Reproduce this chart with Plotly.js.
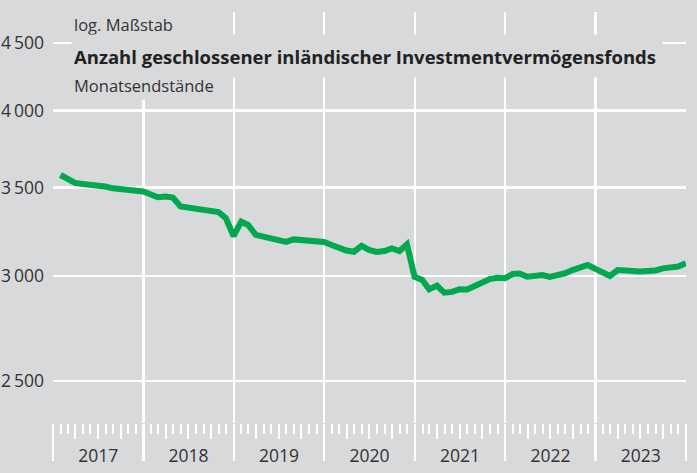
<!DOCTYPE html>
<html><head><meta charset="utf-8">
<script src="https://cdn.plot.ly/plotly-3.0.1.min.js"></script>
<style>html,body{margin:0;padding:0;background:#d8d9db;} #chart{width:697px;height:473px;}</style>
</head><body><div id="chart"></div>
<script>
// Month-end dates, Jan 2017 – Dec 2023
const months = [
 "2017-01-31","2017-02-28","2017-03-31","2017-04-30","2017-05-31","2017-06-30","2017-07-31","2017-08-31","2017-09-30","2017-10-31","2017-11-30","2017-12-31",
 "2018-01-31","2018-02-28","2018-03-31","2018-04-30","2018-05-31","2018-06-30","2018-07-31","2018-08-31","2018-09-30","2018-10-31","2018-11-30","2018-12-31",
 "2019-01-31","2019-02-28","2019-03-31","2019-04-30","2019-05-31","2019-06-30","2019-07-31","2019-08-31","2019-09-30","2019-10-31","2019-11-30","2019-12-31",
 "2020-01-31","2020-02-29","2020-03-31","2020-04-30","2020-05-31","2020-06-30","2020-07-31","2020-08-31","2020-09-30","2020-10-31","2020-11-30","2020-12-31",
 "2021-01-31","2021-02-28","2021-03-31","2021-04-30","2021-05-31","2021-06-30","2021-07-31","2021-08-31","2021-09-30","2021-10-31","2021-11-30","2021-12-31",
 "2022-01-31","2022-02-28","2022-03-31","2022-04-30","2022-05-31","2022-06-30","2022-07-31","2022-08-31","2022-09-30","2022-10-31","2022-11-30","2022-12-31",
 "2023-01-31","2023-02-28","2023-03-31","2023-04-30","2023-05-31","2023-06-30","2023-07-31","2023-08-31","2023-09-30","2023-10-31","2023-11-30","2023-12-31"
];
// Number of closed-end domestic investment funds (month-end)
const funds = [
 3577,3549,3528,3522,3518,3515,3506,3495,3491,3489,3489,3476,
 3458,3441,3445,3439,3386,3380,3369,3360,3357,3354,3319,3217,
 3298,3279,3223,3212,3203,3192,3184,3198,3195,3189,3189,3184,
 3167,3149,3137,3130,3162,3140,3129,3134,3148,3134,3171,2997,
 2980,2932,2951,2915,2919,2932,2931,2949,2971,2985,2992,2989,
 3011,3014,2997,3004,3006,2996,3004,3015,3032,3048,3059,3038,
 3017,3001,3032,3027,3023,3024,3027,3030,3041,3044,3051,3068
];
const yTickVals = [2500,3000,3500,4000,4500];
const yTickText = ["2\u2009500","3\u2009000","3\u2009500","4\u2009000","4\u2009500"];
const yearGrid = ["2018-01-01","2019-01-01","2020-01-01","2021-01-01","2022-01-01","2023-01-01"];
const yearEdges = ["2017-01-01","2024-01-01"];
const xRange = ["2017-01-01","2024-01-01"];

const BG = "#d8d9db";
const FONT = "Open Sans";
const TXT = "#333333";

const trace = {
  x: months, y: funds, type: "scatter", mode: "lines",
  line: {color: "#00a84f", width: 6}, hoverinfo: "skip"
};
// invisible copies so that the overlaying tick axes get drawn
const ghost = ax => ({x: months, y: funds, type: "scatter", mode: "lines", xaxis: ax, yaxis: "y",
  line: {color: "rgba(0,0,0,0)", width: 0}, hoverinfo: "skip", showlegend: false});

const baseX = {type: "date", range: xRange, fixedrange: true, zeroline: false, showline: false};

const layout = {
  width: 697, height: 473,
  margin: {l: 53, r: 11, t: 12, b: 50, pad: 0},
  paper_bgcolor: BG, plot_bgcolor: BG,
  showlegend: false,
  font: {family: FONT, color: TXT, size: 17},
  xaxis: Object.assign({}, baseX, {
    tickmode: "array", tickvals: yearGrid, showticklabels: false,
    ticks: "outside", ticklen: 37, tickwidth: 2.5, tickcolor: "#ffffff",
    showgrid: true, gridcolor: "#ffffff", gridwidth: 2.5
  }),
  xaxis2: Object.assign({}, baseX, {
    overlaying: "x", anchor: "y", side: "bottom",
    tickmode: "array", tickvals: yearEdges, showticklabels: false,
    ticks: "outside", ticklen: 37, tickwidth: 2.5, tickcolor: "#ffffff", showgrid: false
  }),
  xaxis3: Object.assign({}, baseX, {
    overlaying: "x", anchor: "y", side: "bottom",
    tick0: "2017-01-01", dtick: "M3", showticklabels: false,
    ticks: "outside", ticklen: 15, tickwidth: 2, tickcolor: "#ffffff", showgrid: false,
    minor: {tick0: "2017-01-01", dtick: "M1", ticks: "outside", ticklen: 10, tickwidth: 2, tickcolor: "#ffffff", showgrid: false}
  }),
  xaxis4: Object.assign({}, baseX, {
    overlaying: "x", anchor: "y", side: "bottom",
    tick0: "2017-01-01", dtick: "M12", ticklabelmode: "period", tickformat: "%Y",
    ticks: "", showgrid: false, ticklabelstandoff: 20,
    tickfont: {family: FONT, size: 17.5, color: TXT}
  }),
  yaxis: {
    type: "log", range: [3.36622, 3.67662], fixedrange: true,
    tickmode: "array", tickvals: yTickVals, ticktext: yTickText,
    ticks: "", ticklabelstandoff: 8,
    tickfont: {family: FONT, size: 17.5, color: TXT},
    showgrid: true, gridcolor: "#ffffff", gridwidth: 2.5,
    zeroline: false, showline: false
  },
  annotations: [
    {xref: "paper", yref: "paper", x: 0.0284, y: 0.9696, xanchor: "left", yanchor: "middle",
     text: "log. Maßstab", showarrow: false, align: "left", width: 150, height: 25, borderpad: 2,
     bgcolor: BG, font: {family: FONT, size: 16.5, color: TXT}},
    {xref: "paper", yref: "paper", x: 0.0284, y: 0.8929, xanchor: "left", yanchor: "middle",
     text: "<b>Anzahl geschlossener inländischer Investmentvermögensfonds</b>", showarrow: false,
     align: "left", width: 586, height: 38, borderpad: 2,
     bgcolor: BG, font: {family: FONT, size: 18.5, color: "#222222"}},
    {xref: "paper", yref: "paper", x: 0.0284, y: 0.8236, xanchor: "left", yanchor: "middle",
     text: "Monatsendstände", showarrow: false, align: "left", width: 150, height: 24, borderpad: 2,
     bgcolor: BG, font: {family: FONT, size: 16.5, color: TXT}}
  ]
};

Plotly.newPlot("chart", [trace, ghost("x2"), ghost("x3"), ghost("x4")], layout, {displayModeBar: false, staticPlot: true});
</script>
</body></html>
